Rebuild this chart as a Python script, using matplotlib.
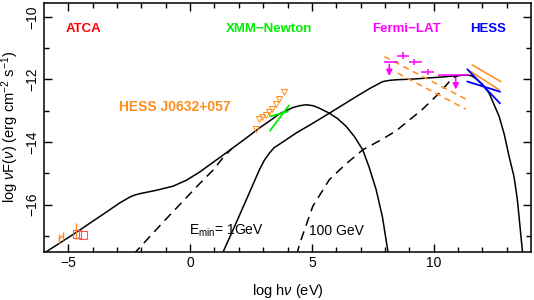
import numpy as np
import matplotlib.pyplot as plt

plt.rcParams['font.family'] = ['Liberation Sans', 'DejaVu Sans']
plt.rcParams['mathtext.fontset'] = 'custom'
plt.rcParams['mathtext.rm'] = 'Liberation Sans'
plt.rcParams['mathtext.it'] = 'Liberation Sans:italic'

# model curves (log h nu, log nuF nu)
sync_x = [-6.0, -4.8, -3.5, -2.9, -2.7, -2.48, -2.3, -2.07, -1.38, -0.70, -0.15, 0.39, 1.35,
          2.31, 2.85, 3.26, 3.67, 4.22, 4.5, 4.77, 5.05, 5.31, 5.72, 6.05, 6.41, 6.75, 7.09,
          7.35, 7.64, 7.9, 8.11, 8.14]
sync_y = [-17.55, -16.95, -16.27, -15.95, -15.86, -15.76, -15.70, -15.65, -15.54, -15.41,
          -15.22, -14.96, -14.42, -13.87, -13.55, -13.33, -13.10, -12.90, -12.84, -12.81,
          -12.84, -12.92, -13.08, -13.25, -13.50, -13.83, -14.25, -14.8, -15.52, -16.4,
          -17.43, -17.6]
ic_x = [1.30, 1.35, 1.83, 2.31, 2.85, 3.05, 3.26, 3.45, 3.67, 4.36, 5.04, 5.72, 6.82, 7.4,
        7.91, 8.2, 8.5, 9.14, 10.23, 11.32, 11.55, 11.73, 12.0, 12.28, 12.69, 12.9, 13.10,
        13.3, 13.44, 13.64, 13.66]
ic_y = [-17.6, -17.52, -16.69, -15.84, -14.88, -14.58, -14.35, -14.18, -14.07, -13.71,
        -13.40, -13.08, -12.55, -12.28, -12.07, -12.03, -12.01, -11.99, -11.93, -11.86,
        -11.88, -11.97, -12.15, -12.44, -13.18, -13.75, -14.46, -15.1, -15.84, -17.43, -17.6]
sync100_x = [-2.3, -2.2, -1.0, 0.39, 0.94, 1.35, 1.7]
sync100_y = [-17.6, -17.48, -16.47, -15.33, -14.9, -14.5, -14.22]
ic100_x = [4.38, 4.42, 4.49, 5.04, 5.72, 6.4, 7.09, 7.8, 8.45, 9.55, 10.23, 10.77, 11.0]
ic100_y = [-17.6, -17.48, -17.27, -16.05, -15.2, -14.7, -14.25, -13.95, -13.65, -12.95,
           -12.44, -11.96, -11.88]

# Fermi-LAT points
lat_x = [8.73, 9.2, 9.75]
lat_xlo = [8.49, 9.0, 9.48]
lat_xhi = [9.0, 9.52, 10.02]
lat_y = [-11.24, -11.45, -11.76]
lat_ul_x = [8.18, 10.91]
lat_ul_xlo = [7.98, 10.16]
lat_ul_xhi = [8.52, 11.46]
lat_ul_y = [-11.43, -11.86]

# Fermi butterfly (orange dashed)
fbut_x = [[7.98, 11.32], [8.52, 11.32]]
fbut_y = [[-11.27, -12.63], [-11.8, -12.95]]

# HESS butterflies
hess_x = [[11.39, 12.72], [11.39, 12.72]]
hess_y = [[-11.68, -12.76], [-12.07, -12.39]]
hess2_x = [[11.59, 12.76], [11.53, 12.69]]
hess2_y = [[-11.54, -12.07], [-11.75, -12.33]]

# XMM butterfly
xmm_x = [[3.29, 4.01], [3.29, 4.05]]
xmm_y = [[-13.18, -13.03], [-13.63, -12.84]]

# X-ray triangles
tri_x = [2.69, 2.83, 2.96, 3.10, 3.23, 3.37, 3.54, 3.67, 3.84]
tri_y = [-13.59, -13.27, -13.20, -13.13, -13.05, -12.95, -12.79, -12.63, -12.39]

# radio
radio_x = [-5.38, -5.22, -4.67]
radio_y = [-17.08, -17.0, -16.85]
radio_err = [0.13, 0.13, 0.25]
atca_x = [-4.66, -4.40]
atca_y = [-16.95, -16.98]

fig = plt.figure(figsize=(5.34, 3.0), dpi=100)
ax = fig.add_axes([0.0824, 0.1613, 0.912, 0.8287])

lw = 1.1
ax.plot(sync_x, sync_y, 'k-', lw=lw)
ax.plot(ic_x, ic_y, 'k-', lw=lw)
ax.plot(sync100_x, sync100_y, 'k--', lw=lw, dashes=(6, 4))
ax.plot(ic100_x, ic100_y, 'k--', lw=lw, dashes=(6, 4))

orange = '#ff8c1a'
for xx, yy in zip(fbut_x, fbut_y):
    ax.plot(xx, yy, '--', color=orange, lw=1.1, dashes=(4, 3))
for xx, yy in zip(hess2_x, hess2_y):
    ax.plot(xx, yy, '-', color=orange, lw=1.1)
for xx, yy in zip(hess_x, hess_y):
    ax.plot(xx, yy, '-', color='#0000ff', lw=1.3)
for xx, yy in zip(xmm_x, xmm_y):
    ax.plot(xx, yy, '-', color='#00ee00', lw=1.3)

ax.plot(tri_x, tri_y, 'v', mfc='none', mec=orange, ms=5, mew=0.7, ls='none')

lat_c = '#ff00ff'
ax.errorbar(lat_x, lat_y,
            xerr=[np.array(lat_x) - np.array(lat_xlo), np.array(lat_xhi) - np.array(lat_x)],
            yerr=0.1, fmt='none', ecolor=lat_c, elinewidth=1.1)
ax.errorbar(lat_ul_x, lat_ul_y,
            xerr=[np.array(lat_ul_x) - np.array(lat_ul_xlo), np.array(lat_ul_xhi) - np.array(lat_ul_x)],
            fmt='none', ecolor=lat_c, elinewidth=1.1)
for xu, yu in zip(lat_ul_x, lat_ul_y):
    ax.annotate('', xy=(xu, yu - 0.55), xytext=(xu, yu),
                arrowprops=dict(arrowstyle='-|>', color=lat_c, lw=1.1, mutation_scale=9))

ax.errorbar(radio_x, radio_y, yerr=radio_err, fmt='none', ecolor=orange, elinewidth=1.0)
ax.plot(radio_x[:2], radio_y[:2], '-', color=orange, lw=1.0)
ax.plot(atca_x, atca_y, 's', mfc='none', mec='#ff5050', ms=5.5, mew=0.8, ls='none')

tf = dict(fontsize=9.5, fontweight='bold', ha='center', va='center')
ax.text(-4.36, -10.39, 'ATCA', color='#ff0000', **tf)
ax.text(3.26, -10.39, 'XMM\u2212Newton', color='#00ee00', **tf)
ax.text(8.9, -10.39, 'Fermi\u2212LAT', color=lat_c, **tf)
ax.text(12.22, -10.39, 'HESS', color='#0000ff', **tf)
ax.text(-0.63, -12.88, 'HESS J0632+057', color=orange, fontsize=10, fontweight='bold',
        ha='center', va='center')
ax.text(-0.05, -16.85, r'E$_{\mathrm{min}}$= 1GeV', fontsize=10, ha='left', va='center')
ax.text(4.88, -16.85, '100 GeV', fontsize=10, ha='left', va='center')

ax.set_xlim(-6, 14)
ax.set_ylim(-17.5, -9.56)
ax.set_xticks([-5, 0, 5, 10])
ax.set_xticks(np.arange(-5, 14, 1), minor=True)
ax.set_yticks([-16, -14, -12, -10])
ax.set_yticks(np.arange(-17, -9, 1), minor=True)
ax.tick_params(which='both', direction='in', top=True, right=True, labelsize=10, width=1)
ax.tick_params(which='major', length=6)
ax.tick_params(which='minor', length=3.5)
for lab in ax.get_yticklabels():
    lab.set_rotation(90)
    lab.set_va('center')
for s in ax.spines.values():
    s.set_linewidth(1.1)

ax.set_xlabel(r'log h$\nu$ (eV)', fontsize=10.5, labelpad=8)
ax.set_ylabel(r'log $\nu$F($\nu$) (erg cm$^{-2}$ s$^{-1}$)', fontsize=10.5, labelpad=3)

fig.savefig('out.png', dpi=100)
